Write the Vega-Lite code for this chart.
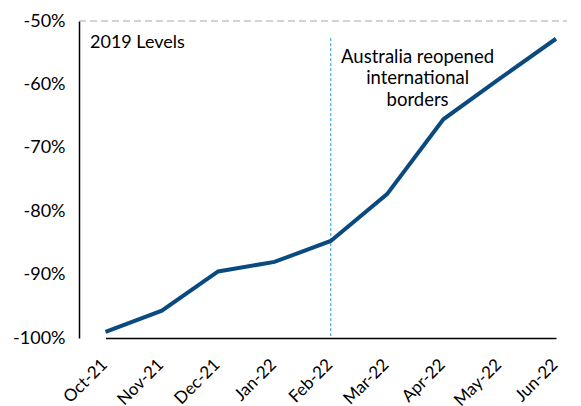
{
  "$schema": "https://vega.github.io/schema/vega-lite/v6.json",
  "width": 488,
  "height": 317,
  "autosize": {"type": "none"},
  "padding": {"left": 79, "top": 21, "right": 14, "bottom": 68},
  "config": {
    "view": {"stroke": null},
    "font": "Lato"
  },
  "data": {
    "values": [
      {"month": "Oct-21", "value": -99.05},
      {"month": "Nov-21", "value": -95.7},
      {"month": "Dec-21", "value": -89.5},
      {"month": "Jan-22", "value": -88.0},
      {"month": "Feb-22", "value": -84.7},
      {"month": "Mar-22", "value": -77.3},
      {"month": "Apr-22", "value": -65.5},
      {"month": "May-22", "value": -59.1},
      {"month": "Jun-22", "value": -52.8}
    ]
  },
  "encoding": {
    "x": {
      "field": "month",
      "type": "ordinal",
      "sort": null,
      "scale": {
        "type": "point",
        "domain": ["Oct-21", "Nov-21", "Dec-21", "Jan-22", "Feb-22", "Mar-22", "Apr-22", "May-22", "Jun-22"],
        "range": [26.5, 477],
        "padding": 0
      },
      "axis": {
        "title": null,
        "labelAngle": -45,
        "labelFontSize": 17,
        "labelColor": "#000000",
        "ticks": false,
        "domainColor": "#000000",
        "domainWidth": 1.5,
        "labelPadding": 18,
        "labelOffset": -7
      }
    },
    "y": {
      "field": "value",
      "type": "quantitative",
      "scale": {"domain": [-100, -50], "nice": false, "zero": false},
      "axis": {
        "title": null,
        "values": [-100, -90, -80, -70, -60, -50],
        "labelExpr": "datum.value + '%'",
        "labelFontSize": 18,
        "labelColor": "#000000",
        "ticks": false,
        "grid": false,
        "domainColor": "#000000",
        "domainWidth": 1.5,
        "labelPadding": 14
      }
    }
  },
  "layer": [
    {
      "data": {"values": [{"level": -50}]},
      "mark": {"type": "rule", "color": "#a6a6a6", "strokeDash": [7, 4], "strokeWidth": 1},
      "encoding": {"y": {"field": "level", "type": "quantitative"}, "x": {"value": 0}, "x2": {"value": 488}}
    },
    {
      "data": {"values": [{"month": "Feb-22", "top": -52.7, "bottom": -100}]},
      "mark": {"type": "rule", "color": "#1e9bd7", "strokeDash": [3, 2], "strokeWidth": 1},
      "encoding": {"x": {"field": "month"}, "y": {"field": "top", "type": "quantitative"}, "y2": {"field": "bottom"}}
    },
    {
      "mark": {"type": "line", "color": "#0b4a7f", "strokeWidth": 4}
    },
    {
      "data": {"values": [{"month": "Oct-21", "value": -53.5, "label": "2019 Levels"}]},
      "mark": {"type": "text", "align": "left", "baseline": "middle", "fontSize": 18, "fill": "#000000", "dx": -15.5},
      "encoding": {"x": {"field": "month"}, "y": {"field": "value", "type": "quantitative"}, "text": {"field": "label"}}
    },
    {
      "data": {"values": [{"month": "Mar-22", "value": -55.6, "label": ["Australia reopened", "international", "borders"]}]},
      "mark": {"type": "text", "align": "center", "baseline": "middle", "fontSize": 18.5, "fill": "#000000", "dx": 30.5, "lineHeight": 21.6},
      "encoding": {"x": {"field": "month"}, "y": {"field": "value", "type": "quantitative"}, "text": {"field": "label"}}
    }
  ]
}
